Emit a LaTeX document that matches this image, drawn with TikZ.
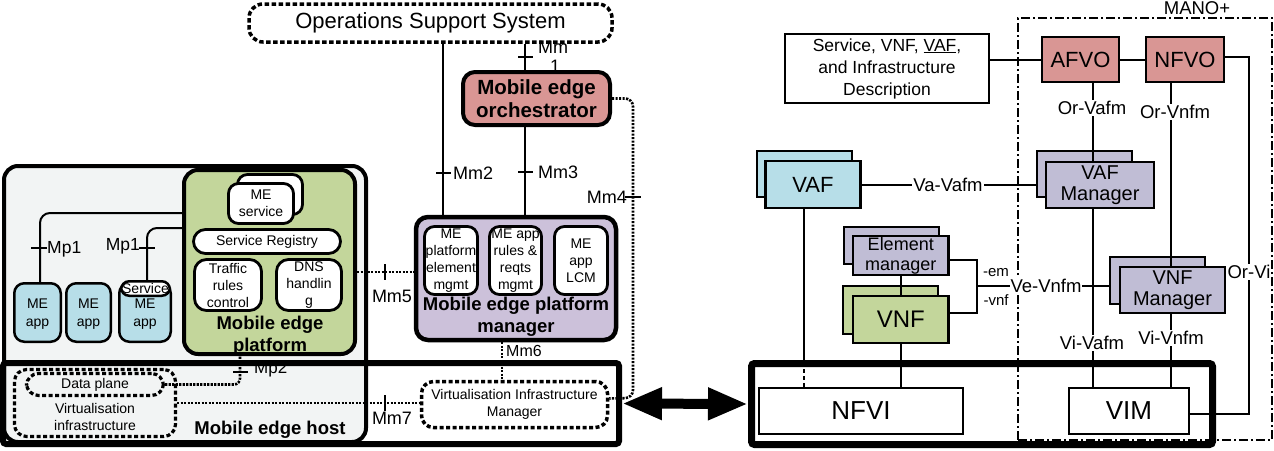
\documentclass[tikz,border=0pt]{standalone}
\usepackage{fontspec}
\setmainfont{Liberation Sans}
\usetikzlibrary{arrows.meta}
\definecolor{pinkc}{RGB}{217,150,148}
\definecolor{lavc}{RGB}{204,193,218}
\definecolor{lavb}{RGB}{192,189,213}
\definecolor{greenc}{RGB}{195,214,155}
\definecolor{bluec}{RGB}{183,222,232}
\definecolor{hostc}{RGB}{242,244,244}
\newcommand{\fsz}[2]{\fontsize{#1}{#2}\selectfont}
\begin{document}
\begin{tikzpicture}[x=1pt,y=-1pt,
  thk/.style={draw, line width=4pt, rounded corners=12pt, align=center},
  wbox/.style={draw, fill=white, line width=2.8pt, rounded corners=10pt, align=center, inner sep=1pt, font=\fsz{14}{17}},
  appbox/.style={draw, fill=bluec, line width=2.5pt, rounded corners=10pt, align=center, inner sep=1pt, font=\fsz{14}{18}, minimum height=58.5pt},
  dotbox/.style={draw, line width=3.2pt, dash pattern=on 4pt off 2.5pt, rounded corners=12pt, align=center, inner sep=1pt},
  rbox/.style={draw, line width=2.2pt, align=center, inner sep=1pt},
  conn/.style={line width=2pt},
  dotln/.style={line width=2.6pt, dash pattern=on 2.2pt off 1.3pt},
  lbl/.style={font=\fsz{18}{21}, inner sep=0pt},
  wlbl/.style={font=\fsz{18.5}{21}, fill=white, inner sep=1pt},
  blbl/.style={font=\fsz{18.5}{22}\bfseries, align=center, inner sep=0pt}]
\useasboundingbox (0,0) rectangle (1274,450);

% ---------------- left: mobile edge host ----------------
\node[draw, line width=4pt, fill=hostc, rounded corners=14pt, minimum width=362pt, minimum height=276pt] (host) at (185,304) {};

% OSS
\node[dotbox, line width=3.5pt, dash pattern=on 4.5pt off 2.5pt, rounded corners=14pt, minimum width=363pt, minimum height=38pt, font=\fsz{22}{26}] (oss) at (430.5,23) {Operations Support System};

% Mm1 labels (partly hidden by orchestrator)
\node[lbl, anchor=west] (mm1a) at (538,47) {Mm};
\node[lbl] (mm1b) at (555,66) {1};

% orchestrator
\node[thk, fill=pinkc, minimum width=147pt, minimum height=53pt, font=\fsz{20.5}{23}\bfseries] (orch) at (536.5,98.5) {Mobile edge\\orchestrator};

% platform manager
\node[thk, line width=4.5pt, fill=lavc, minimum width=200pt, minimum height=123pt] (mepm) at (516,278.5) {};
\node[wbox, minimum width=53pt, minimum height=68pt] (pem) at (451,260.5) {ME\\platform\\element\\mgmt};
\node[wbox, minimum width=52pt, minimum height=68pt] (arm) at (515.5,260.5) {ME app\\rules \&\\reqts\\mgmt};
\node[wbox, minimum width=53pt, minimum height=68pt] (lcm) at (581,260.5) {ME\\app\\LCM};
\node[blbl] (mepmlbl) at (516,317) {Mobile edge platform\\manager};

% ME apps
\node[appbox, minimum width=46.5pt] (app1) at (37.5,312.5) {\\[-6pt]ME\\app};
\node[appbox, minimum width=44.5pt] (app2) at (88.5,312.5) {\\[-6pt]ME\\app};
\node[appbox, minimum width=51.5pt] (app3) at (145,312.5) {\\[-6pt]ME\\app};
\node[wbox, line width=2.5pt, rounded corners=8pt, font=\fsz{14}{16}, minimum width=46.5pt, minimum height=14.5pt] (svc) at (145.5,288.5) {Service};

% mobile edge platform
\node[thk, fill=greenc, rounded corners=14pt, minimum width=171pt, minimum height=184pt] (plat) at (269.5,262) {};
\node[wbox, minimum width=65pt, minimum height=40pt] (msvcb) at (270,194.5) {};
\node[wbox, minimum width=65pt, minimum height=40pt] (msvc) at (261,203.5) {ME\\service};
\node[wbox, rounded corners=12pt, minimum width=147pt, minimum height=24pt] (sreg) at (267,241.5) {Service Registry};
\node[wbox, rounded corners=12pt, minimum width=67pt, minimum height=51pt] (trc) at (228,285) {Traffic\\rules\\control};
\node[wbox, rounded corners=12pt, minimum width=65pt, minimum height=51pt] (dns) at (309,285) {DNS\\handlin\\g};
\node[blbl] (platlbl) at (270,336) {Mobile edge\\platform};

% Mp1
\coordinate (mp1a) at (40,213);
\coordinate (mp1b) at (147,228);
\draw[conn, rounded corners=10pt] (app1.north -| mp1a) |- (plat.west |- mp1a);
\draw[conn, rounded corners=10pt] (svc.north -| mp1b) |- (plat.west |- mp1b);
\draw[conn] (31,248) -- (47,248);
\draw[conn] (139,248) -- (155,248);
\node[lbl, anchor=west, font=\fsz{17.5}{20}] (mp1al) at (47,249) {Mp1};
\node[lbl, anchor=east, font=\fsz{17.5}{20}] (mp1bl) at (140,246) {Mp1};

% lower-left system level box
\node[draw, line width=6pt, rounded corners=3pt, minimum width=616pt, minimum height=81pt] (lvl) at (311,403.5) {};

% virtualisation infrastructure
\node[dotbox, minimum width=161pt, minimum height=67pt] (vi) at (95,403) {};
\node[font=\fsz{14}{17}, align=center, inner sep=0pt] (vilbl) at (95,417) {Virtualisation\\infrastructure};
\node[dotbox, rounded corners=12pt, minimum width=137pt, minimum height=22pt, font=\fsz{14}{16}] (dp) at (95,384.5) {Data plane};
\node[blbl] (hostlbl) at (270,430) {Mobile edge host};

% Mp2
\coordinate (mp2) at (240,384.5);
\draw[dotln, rounded corners=6pt] (dp.east) -- (mp2) -- (plat.south -| mp2);
\draw[conn] (233,372) -- (248,372);
\node[lbl, anchor=west, font=\fsz{17}{20}] (mp2l) at (254,369) {Mp2};

% VIM (ME)
\node[dotbox, line width=3.5pt, minimum width=186pt, minimum height=46pt, font=\fsz{14}{17}] (vimm) at (514.5,404.5) {Virtualisation Infrastructure\\Manager};

% Mm5
\coordinate (mm5) at (0,272);
\draw[dotln] (plat.east |- mm5) -- (mepm.west |- mm5);
\draw[conn] (385,264) -- (385,280);
\node[lbl] (mm5l) at (392,296) {Mm5};

% Mm7
\draw[dotln] (vi.east) -- (vi.east -| vimm.west);
\draw[conn] (385,395) -- (385,411);
\node[lbl] (mm7l) at (392,418) {Mm7};

% Mm6
\coordinate (mm6) at (502,0);
\draw[dotln] (mepm.south -| mm6) -- (vimm.north -| mm6);
\node[lbl, anchor=west, font=\fsz{16}{19}] (mm6l) at (506,351) {Mm6};

% Mm4
\coordinate (mm4c) at (633,398);
\draw[dotln, rounded corners=8pt] (orch.east) -| (mm4c) -- ([yshift=6pt]vimm.east);
\draw[conn] (625,197) -- (641,197);
\node[lbl, anchor=east] (mm4l) at (627,197) {Mm4};

% Mm1, Mm2, Mm3
\coordinate (mm2x) at (443,0);
\coordinate (mm3x) at (525,0);
\draw[conn] (oss.south -| mm2x) -- (mepm.north -| mm2x);
\draw[conn] (oss.south -| mm3x) -- (orch.north -| mm3x);
\draw[conn] (orch.south -| mm3x) -- (mepm.north -| mm3x);
\draw[conn] (436,173) -- (451,173);
\draw[conn] (518,172) -- (533,172);
\draw[conn] (518,57) -- (533,57);
\node[lbl, anchor=west] (mm2l) at (453,173) {Mm2};
\node[lbl, anchor=west] (mm3l) at (538,172) {Mm3};

% ---------------- right: NFV MANO ----------------
\node[draw, line width=2pt, dash pattern=on 9pt off 3pt on 2pt off 3pt, minimum width=254pt, minimum height=422pt] (mano) at (1145,229) {};
\node[lbl, anchor=base, font=\fsz{18.5}{21}] (manol) at (1197,14) {MANO+};

\node[draw, line width=7pt, rounded corners=3pt, minimum width=461pt, minimum height=81pt] (rvl) at (982,404) {};

\node[rbox, minimum width=204pt, minimum height=69pt, font=\fsz{17.5}{22}] (desc) at (887,68.5) {Service, VNF, \underline{VAF},\\and Infrastructure\\Description};
\node[rbox, fill=pinkc, minimum width=77pt, minimum height=45pt, font=\fsz{22}{26}] (afvo) at (1080.5,59.5) {AFVO};
\node[rbox, fill=pinkc, minimum width=78pt, minimum height=45pt, font=\fsz{22}{26}] (nfvo) at (1185,59.5) {NFVO};

% back boxes
\node[rbox, fill=bluec, minimum width=95pt, minimum height=46pt] (vafb) at (804.5,174) {};
\node[rbox, fill=lavb, minimum width=95pt, minimum height=46pt] (vafmb) at (1084.5,174) {};
\node[rbox, fill=lavb, minimum width=95pt, minimum height=37pt] (emb) at (891.5,245.5) {};
\node[rbox, fill=greenc, minimum width=95pt, minimum height=48pt] (vnfb) at (890.5,310) {};
\node[rbox, fill=lavb, minimum width=95pt, minimum height=47pt] (vnfmb) at (1157.5,280.5) {};

% front boxes
\node[rbox, fill=bluec, minimum width=95pt, minimum height=47pt, font=\fsz{22}{26}] (vaf) at (813,184.5) {VAF};
\node[rbox, fill=lavb, minimum width=108pt, minimum height=46pt, font=\fsz{20}{21}] (vafm) at (1100,185) {VAF\\Manager};
\node[rbox, fill=lavb, minimum width=95.5pt, minimum height=39pt, font=\fsz{18}{20}] (em) at (900.75,255.5) {Element\\manager};
\node[rbox, fill=greenc, minimum width=95.5pt, minimum height=47pt, font=\fsz{24}{28}] (vnf) at (900.75,319.5) {VNF};
\node[rbox, fill=lavb, minimum width=105pt, minimum height=46pt, font=\fsz{20}{21}] (vnfm) at (1172.5,290) {VNF\\Manager};
\node[rbox, fill=white, minimum width=204pt, minimum height=46pt, font=\fsz{26}{30}] (nfvi) at (861,411) {NFVI};
\node[rbox, fill=white, minimum width=120pt, minimum height=46pt, font=\fsz{26}{30}] (vim) at (1129,411) {VIM};

% connectors
\coordinate (c60) at (0,60);
\draw[conn] (desc.east |- c60) -- (afvo.west |- c60);
\draw[conn] (afvo.east |- c60) -- (nfvo.west |- c60);
\coordinate (orvia) at (1249,57);
\coordinate (orvib) at (1249,414);
\draw[conn] (nfvo.east |- orvia) -- (orvia) -- (orvib) -- (vim.east |- orvib);
\coordinate (c1093) at (1093,0);
\coordinate (c1171) at (1171,0);
\draw[conn] (afvo.south -| c1093) -- (vafm.north -| c1093);
\draw[conn] (nfvo.south -| c1171) -- (vnfm.north -| c1171);
\draw[conn] (vaf.east) -- (vafmb.west |- vaf.east);
\coordinate (c804) at (804,0);
\coordinate (vafd) at (804,362);
\draw[conn] (vaf.south -| c804) -- (vafd);
\draw[conn, dash pattern=on 4pt off 3pt] (vafd) -- (nfvi.north -| c804);
\draw[conn] (em.south) -- (vnf.north);
\draw[conn] (vnf.south) -- (nfvi.north -| vnf.south);
\coordinate (brkt) at (977,260);
\coordinate (brkb) at (977,313);
\coordinate (brkm) at (977,286);
\draw[conn] (em.east |- brkt) -- (brkt) -- (brkb) -- (vnf.east |- brkb);
\draw[conn] (brkm) -- (vnfmb.west |- brkm);
\draw[conn] (vafm.south -| c1093) -- (vim.north -| c1093);
\draw[conn] (vnfm.south -| c1171) -- (vim.north -| c1171);

% labels
\node[wlbl] (orvil) at (1249,272) {Or-Vi};
\node[wlbl] (orvafl) at (1092,108) {Or-Vafm};
\node[wlbl] (ornfl) at (1175,112) {Or-Vnfm};
\node[wlbl] (vavl) at (948,185) {Va-Vafm};
\node[wlbl] (vevl) at (1046,286) {Ve-Vnfm};
\node[lbl, font=\fsz{15}{18}] (eml) at (996,273) {-em};
\node[lbl, font=\fsz{15}{18}] (vnfl) at (996,300) {-vnf};
\node[wlbl] (vivafl) at (1092,343) {Vi-Vafm};
\node[wlbl] (vivnfl) at (1171,338) {Vi-Vnfm};

% double arrow
\draw[line width=10pt, {Triangle[length=40pt,width=30pt]}-{Triangle[length=40pt,width=30pt]}] (lvl.east) -- (rvl.west);
\end{tikzpicture}
\end{document}
